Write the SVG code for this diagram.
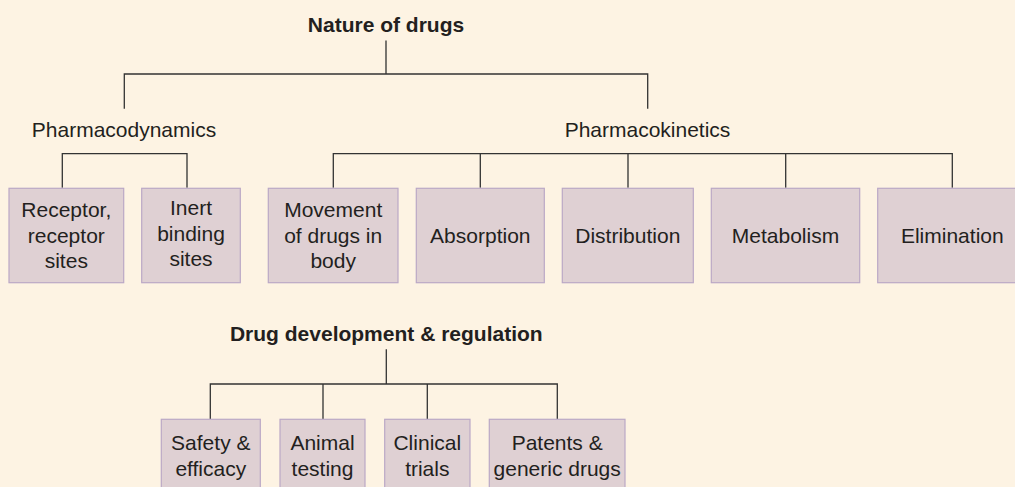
<svg xmlns="http://www.w3.org/2000/svg" width="1015" height="487" viewBox="0 0 1015 487">
<style>
.t{font-family:"Liberation Sans",Arial,sans-serif;font-size:21px;fill:#231f20;text-anchor:middle}
.b{font-weight:bold}
.box{fill:#dfd0d3;stroke:#bba8c6;stroke-width:1.2}
.c{fill:none;stroke:#333;stroke-width:1.3}
</style>
<rect width="1015" height="487" fill="#fdf3e3"/>
<g id="connectors">
<path class="c" d="M386 40.5V74M124.3 108.7V74H647.7V108.7"/>
<path class="c" d="M62.3 187.8V153.7H187V187.8"/>
<path class="c" d="M333.3 187.8V153.7H952.3V187.8M480.3 153.7V187.8M628 153.7V187.8M785.7 153.7V187.8"/>
<path class="c" d="M386.3 349.3V384M210.3 419V384H557.3V419M323 384V419M427.3 384V419"/>
</g>
<g id="nature"><text class="t b" x="386" y="32">Nature of drugs</text></g>
<g id="pharmacodynamics"><text class="t" x="124" y="137">Pharmacodynamics</text></g>
<g id="pharmacokinetics"><text class="t" x="647.5" y="137">Pharmacokinetics</text></g>
<g id="receptor"><rect class="box" x="9" y="188.3" width="114.7" height="94.4"/>
<text class="t" x="66.3" y="216.7">Receptor,</text><text class="t" x="66.3" y="242.7">receptor</text><text class="t" x="66.3" y="267.7">sites</text></g>
<g id="inert"><rect class="box" x="141.7" y="188.3" width="98.6" height="94.4"/>
<text class="t" x="191" y="215">Inert</text><text class="t" x="191" y="240.7">binding</text><text class="t" x="191" y="266">sites</text></g>
<g id="movement"><rect class="box" x="268.3" y="188.3" width="129.7" height="94.4"/>
<text class="t" x="333.2" y="217.3">Movement</text><text class="t" x="333.2" y="243.3">of drugs in</text><text class="t" x="333.2" y="267.7">body</text></g>
<g id="absorption"><rect class="box" x="416.3" y="188.3" width="128" height="94.4"/>
<text class="t" x="480.3" y="243.3">Absorption</text></g>
<g id="distribution"><rect class="box" x="562.3" y="188.3" width="131" height="94.4"/>
<text class="t" x="627.8" y="243.3">Distribution</text></g>
<g id="metabolism"><rect class="box" x="711.3" y="188.3" width="148.4" height="94.4"/>
<text class="t" x="785.5" y="243.3">Metabolism</text></g>
<g id="elimination"><rect class="box" x="877.7" y="188.3" width="150" height="94.4"/>
<text class="t" x="952.3" y="243.3">Elimination</text></g>
<g id="drugdev"><text class="t b" x="386.3" y="341">Drug development &amp; regulation</text></g>
<g id="safety"><rect class="box" x="161.3" y="419.3" width="99" height="80"/>
<text class="t" x="210.8" y="450">Safety &amp;</text><text class="t" x="210.8" y="475.5">efficacy</text></g>
<g id="animal"><rect class="box" x="280" y="419.3" width="85" height="80"/>
<text class="t" x="322.5" y="450">Animal</text><text class="t" x="322.5" y="475.5">testing</text></g>
<g id="clinical"><rect class="box" x="384.7" y="419.3" width="85.3" height="80"/>
<text class="t" x="427.3" y="450">Clinical</text><text class="t" x="427.3" y="475.5">trials</text></g>
<g id="patents"><rect class="box" x="489.3" y="419.3" width="135.7" height="80"/>
<text class="t" x="557.2" y="450">Patents &amp;</text><text class="t" x="557.2" y="475.5">generic drugs</text></g>
</svg>
